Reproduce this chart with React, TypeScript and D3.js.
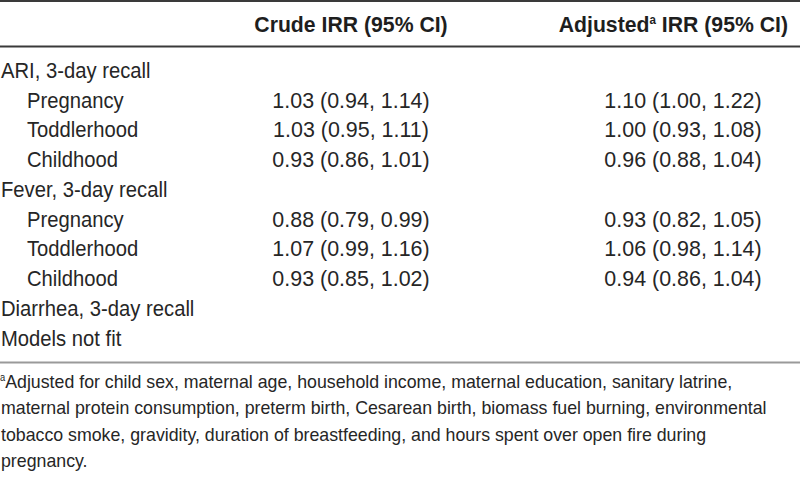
import React from "react";
import * as d3 from "d3";

const rowLabels = [
  "ARI, 3-day recall",
  "Pregnancy",
  "Toddlerhood",
  "Childhood",
  "Fever, 3-day recall",
  "Pregnancy",
  "Toddlerhood",
  "Childhood",
  "Diarrhea, 3-day recall",
  "Models not fit",
];
const rowIndent = [0, 1, 1, 1, 0, 1, 1, 1, 0, 0];
const crudeIRR = [
  "",
  "1.03 (0.94, 1.14)",
  "1.03 (0.95, 1.11)",
  "0.93 (0.86, 1.01)",
  "",
  "0.88 (0.79, 0.99)",
  "1.07 (0.99, 1.16)",
  "0.93 (0.85, 1.02)",
  "",
  "",
];
const adjustedIRR = [
  "",
  "1.10 (1.00, 1.22)",
  "1.00 (0.93, 1.08)",
  "0.96 (0.88, 1.04)",
  "",
  "0.93 (0.82, 1.05)",
  "1.06 (0.98, 1.14)",
  "0.94 (0.86, 1.04)",
  "",
  "",
];
const crudeHeader = "Crude IRR (95% CI)";
const adjustedHeaderParts = ["Adjusted", "a", " IRR (95% CI)"];
const footnoteMark = "a";
const footnoteLines = [
  "Adjusted for child sex, maternal age, household income, maternal education, sanitary latrine,",
  "maternal protein consumption, preterm birth, Cesarean birth, biomass fuel burning, environmental",
  "tobacco smoke, gravidity, duration of breastfeeding, and hours spent over open fire during",
  "pregnancy.",
];

const W = 800;
const H = 485;
const FONT = "'Liberation Sans', Arial, Helvetica, sans-serif";

export default function App() {
  const rowIdx = d3.range(rowLabels.length);
  const yRow = d3.scalePoint<number>().domain(rowIdx).range([78, 345.5]);
  const footIdx = d3.range(footnoteLines.length);
  const yFoot = d3.scalePoint<number>().domain(footIdx).range([388, 467]);
  const xIndent = d3.scaleLinear().domain([0, 1]).range([1, 27]);
  const xCols = d3.scaleOrdinal<string, number>().domain(["crude", "adjusted"]).range([351, 683]);

  const bodyColor = "#262626";
  return (
    <svg
      width={W}
      height={H}
      style={{ position: "absolute", left: 0, top: 0, background: "#fff" }}
      fontFamily={FONT}
    >
      <rect x={0} y={0} width={W} height={H} fill="#fff" />
      {/* rules */}
      <line x1={0} x2={W} y1={1} y2={1} stroke="#3a3a3a" strokeWidth={2} />
      <line x1={0} x2={W} y1={46.5} y2={46.5} stroke="#3a3a3a" strokeWidth={2} />
      <line x1={0} x2={W} y1={362.5} y2={362.5} stroke="#9a9a9a" strokeWidth={2} />

      {/* headers */}
      <text
        transform={`translate(${xCols("crude")},32) scale(0.965,1)`}
        textAnchor="middle"
        fontSize={22}
        fontWeight="bold"
        fill="#1e1e1e"
      >
        {crudeHeader}
      </text>
      <text
        transform={`translate(788,32) scale(0.965,1)`}
        textAnchor="end"
        fontSize={22}
        fontWeight="bold"
        fill="#1e1e1e"
      >
        {adjustedHeaderParts[0]}
        <tspan fontSize={12} dy={-8}>{adjustedHeaderParts[1]}</tspan>
        <tspan dy={8}>{adjustedHeaderParts[2]}</tspan>
      </text>

      {/* rows */}
      {rowIdx.map((i) => (
        <g key={i}>
          <text
            transform={`translate(${xIndent(rowIndent[i])},${yRow(i)}) scale(0.92,1)`}
            fontSize={22}
            fill={bodyColor}
          >
            {rowLabels[i]}
          </text>
          {crudeIRR[i] && (
            <text
              transform={`translate(${xCols("crude")},${yRow(i)}) scale(0.975,1)`}
              textAnchor="middle"
              fontSize={22}
              fill={bodyColor}
            >
              {crudeIRR[i]}
            </text>
          )}
          {adjustedIRR[i] && (
            <text
              transform={`translate(${xCols("adjusted")},${yRow(i)}) scale(0.975,1)`}
              textAnchor="middle"
              fontSize={22}
              fill={bodyColor}
            >
              {adjustedIRR[i]}
            </text>
          )}
        </g>
      ))}

      {/* footnote */}
      {footIdx.map((i) => (
        <text
          key={i}
          transform={`translate(${i === 0 ? 0 : 1},${yFoot(i)}) scale(0.935,1)`}
          fontSize={19}
          fill={bodyColor}
        >
          {i === 0 && (
            <tspan fontSize={10} dy={-7}>
              {footnoteMark}
            </tspan>
          )}
          {i === 0 ? <tspan dy={7}>{footnoteLines[i]}</tspan> : footnoteLines[i]}
        </text>
      ))}
    </svg>
  );
}
